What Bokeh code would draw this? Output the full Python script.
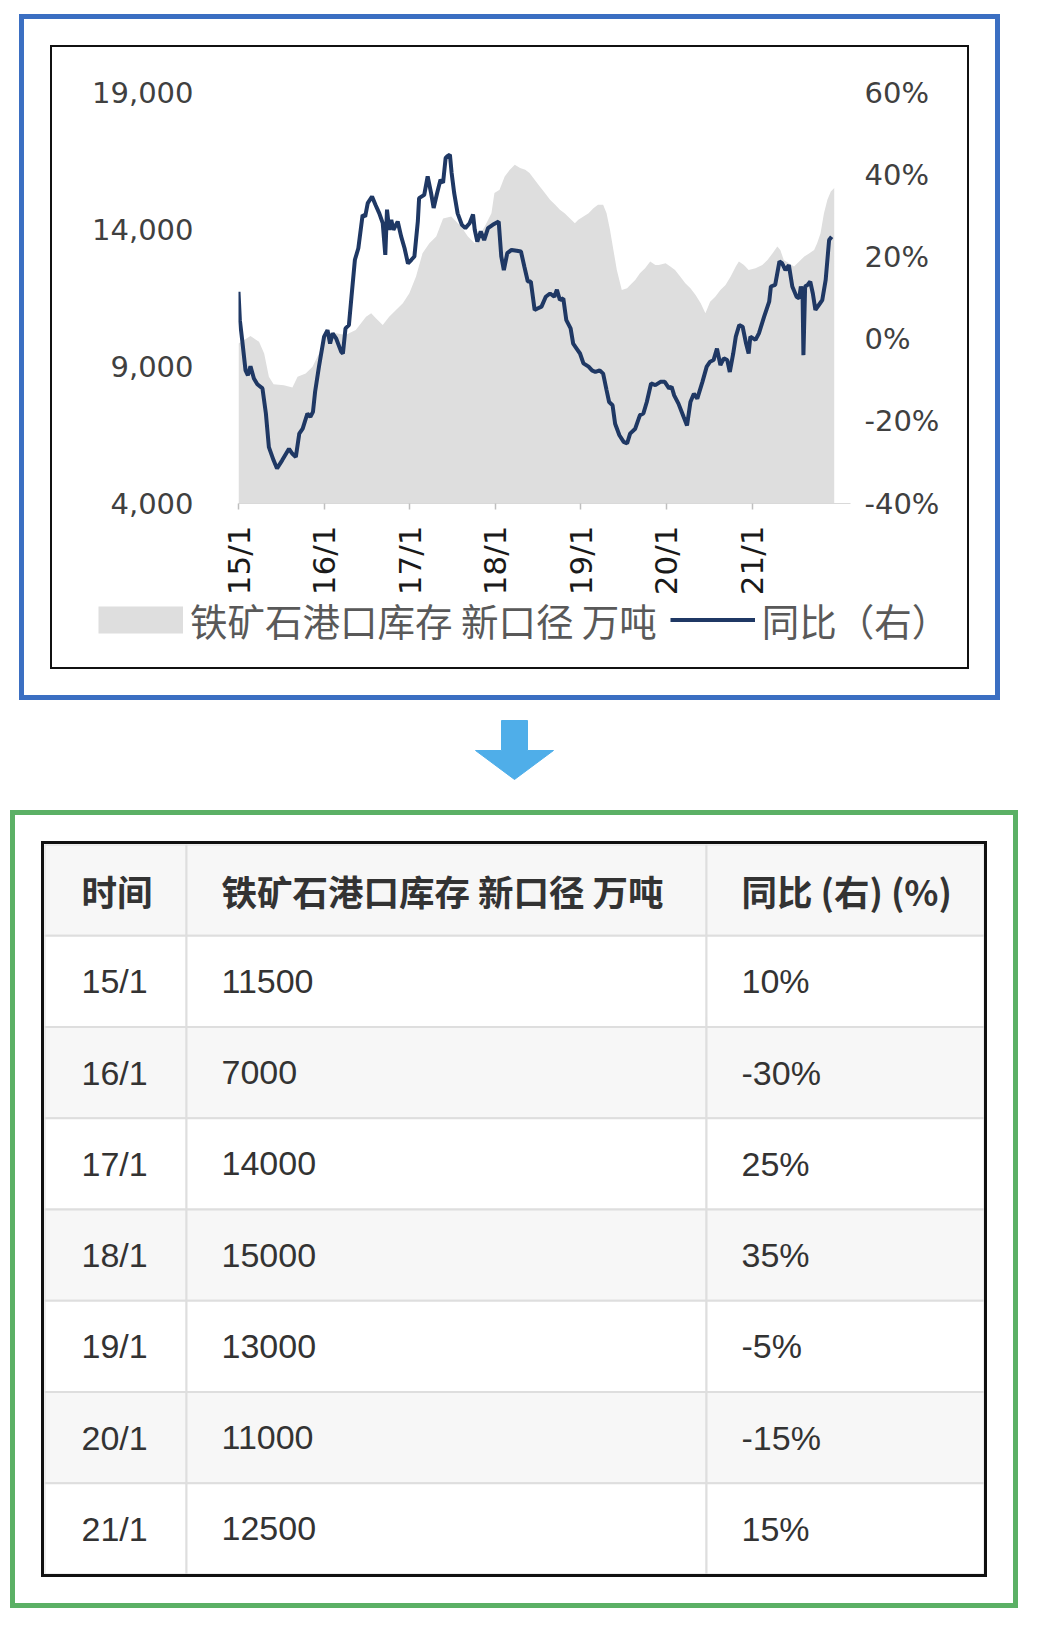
import math
from bokeh.plotting import figure
from bokeh.models import (Range1d, LinearAxis, FixedTicker, Legend, LegendItem,
                          FactorRange, ColumnDataSource)
from bokeh.layouts import column
from bokeh.embed import file_html
from bokeh.resources import INLINE
from bokeh.core.properties import value

# ---------------- data ----------------
x_tick_years = [2015, 2016, 2017, 2018, 2019, 2020, 2021]
x_tick_labels = ["15/1", "16/1", "17/1", "18/1", "19/1", "20/1", "21/1"]
left_ticks = [4000, 9000, 14000, 19000]
left_tick_labels = ["4,000", "9,000", "14,000", "19,000"]
right_ticks = [-40, -20, 0, 20, 40, 60]
right_tick_labels = ["-40%", "-20%", "0%", "20%", "40%", "60%"]
series_names = ["铁矿石港口库存 新口径 万吨", "同比（右）"]

# 铁矿石港口库存 (万吨), x in decimal years
stock_x = [2015.000, 2015.140, 2015.240, 2015.300, 2015.355, 2015.410, 2015.530, 2015.630,
           2015.690, 2015.785, 2015.865, 2015.940, 2016.020, 2016.140, 2016.250, 2016.370,
           2016.490, 2016.550, 2016.605, 2016.685, 2016.760, 2016.840, 2016.920, 2016.996,
           2017.074, 2017.150, 2017.230, 2017.310, 2017.390, 2017.486, 2017.600, 2017.680,
           2017.760, 2017.877, 2017.955, 2017.990, 2018.050, 2018.110, 2018.170, 2018.228,
           2018.290, 2018.350, 2018.400, 2018.460, 2018.520, 2018.580, 2018.640, 2018.700,
           2018.755, 2018.810, 2018.870, 2018.930, 2018.970, 2019.030, 2019.090, 2019.146,
           2019.200, 2019.260, 2019.300, 2019.340, 2019.380, 2019.420, 2019.478, 2019.540,
           2019.576, 2019.635, 2019.690, 2019.750, 2019.810, 2019.870, 2019.910, 2019.990,
           2020.045, 2020.100, 2020.160, 2020.220, 2020.280, 2020.340, 2020.400, 2020.455,
           2020.510, 2020.570, 2020.630, 2020.690, 2020.750, 2020.810, 2020.846, 2020.905,
           2020.960, 2021.040, 2021.120, 2021.180, 2021.240, 2021.295, 2021.330, 2021.370,
           2021.430, 2021.490, 2021.550, 2021.610, 2021.670, 2021.725, 2021.760, 2021.800,
           2021.840, 2021.880, 2021.920, 2021.960]
stock_val = [9843, 10111, 9904, 9477, 8624, 8356, 8319, 8234,
             8624, 8746, 8990, 9477, 10087, 10209, 10148, 10331,
             10818, 10940, 10757, 10513, 10818, 11062, 11306, 11671,
             12281, 13134, 13500, 13744, 14400, 14475, 14109, 13744,
             13500, 14109, 14597, 15328, 15450, 15938, 16182, 16364,
             16243, 16182, 16060, 15816, 15572, 15328, 15085, 14902,
             14719, 14597, 14414, 14231, 14353, 14475, 14597, 14780,
             14902, 14902, 14597, 13988, 13256, 12525, 11793, 11854,
             11976, 12159, 12403, 12586, 12830, 12700, 12708, 12768,
             12647, 12525, 12281, 12037, 11854, 11610, 11306, 10940,
             11367, 11550, 11793, 11976, 12281, 12647, 12830, 12708,
             12525, 12586, 12708, 12890, 13134, 13378, 13256, 12890,
             12768, 12647, 12830, 13012, 13134, 13256, 13500, 13866,
             14597, 15085, 15389, 15511]

# 同比 (%), x in decimal years
yoy_x = [2015.000, 2015.016, 2015.043, 2015.082, 2015.110, 2015.140, 2015.180, 2015.220, 2015.280, 2015.320,
         2015.355, 2015.410, 2015.450, 2015.510, 2015.590, 2015.630, 2015.670, 2015.710, 2015.750, 2015.805,
         2015.840, 2015.870, 2015.895, 2015.940, 2016.000, 2016.040, 2016.070, 2016.100, 2016.140, 2016.200,
         2016.220, 2016.250, 2016.290, 2016.320, 2016.360, 2016.400, 2016.450, 2016.480, 2016.510, 2016.560,
         2016.600, 2016.645, 2016.685, 2016.715, 2016.735, 2016.760, 2016.785, 2016.810, 2016.860, 2016.900,
         2016.940, 2016.980, 2017.020, 2017.055, 2017.095, 2017.110, 2017.170, 2017.210, 2017.250, 2017.280,
         2017.320, 2017.360, 2017.390, 2017.420, 2017.440, 2017.470, 2017.490, 2017.520, 2017.560, 2017.610,
         2017.650, 2017.700, 2017.740, 2017.760, 2017.790, 2017.830, 2017.870, 2017.915, 2017.970, 2018.040,
         2018.070, 2018.100, 2018.140, 2018.190, 2018.250, 2018.300, 2018.340, 2018.380, 2018.415, 2018.460,
         2018.500, 2018.540, 2018.590, 2018.640, 2018.690, 2018.720, 2018.755, 2018.795, 2018.830, 2018.880,
         2018.910, 2018.950, 2018.990, 2019.030, 2019.090, 2019.130, 2019.170, 2019.220, 2019.260, 2019.300,
         2019.330, 2019.370, 2019.400, 2019.450, 2019.500, 2019.540, 2019.575, 2019.635, 2019.690, 2019.730,
         2019.770, 2019.820, 2019.870, 2019.930, 2019.980, 2020.030, 2020.060, 2020.090, 2020.140, 2020.200,
         2020.240, 2020.280, 2020.320, 2020.360, 2020.420, 2020.470, 2020.510, 2020.550, 2020.590, 2020.630,
         2020.670, 2020.710, 2020.740, 2020.780, 2020.810, 2020.850, 2020.890, 2020.930, 2020.960, 2020.980,
         2021.040, 2021.080, 2021.140, 2021.200, 2021.220, 2021.270, 2021.320, 2021.350, 2021.390, 2021.430,
         2021.470, 2021.520, 2021.550, 2021.570, 2021.590, 2021.600, 2021.620, 2021.650, 2021.680, 2021.710,
         2021.740, 2021.780, 2021.820, 2021.860, 2021.900, 2021.930]
yoy_pct = [11.5, 4.6, -0.2, -7.6, -8.8, -6.6, -9.6, -11.0, -12.0, -18.1,
           -26.3, -29.5, -31.5, -29.5, -26.7, -27.9, -28.7, -23.0, -21.8, -18.1,
           -18.9, -17.7, -12.8, -6.7, 0.6, 2.2, -1.1, 1.4, 0.2, -3.1,
           -3.5, 2.6, 3.4, 10.3, 19.3, 22.1, 30.2, 29.8, 33.1, 34.7,
           32.7, 30.6, 28.2, 20.5, 31.5, 26.6, 29.0, 26.6, 28.6, 25.0,
           22.1, 18.4, 19.3, 20.1, 28.6, 34.3, 35.1, 39.6, 35.5, 31.9,
           35.5, 38.8, 38.0, 44.1, 44.5, 44.9, 40.4, 35.5, 30.6, 27.8,
           27.0, 28.2, 30.3, 26.6, 23.7, 26.2, 24.1, 27.0, 27.8, 28.6,
           20.1, 16.8, 20.9, 21.7, 21.5, 21.3, 17.6, 14.0, 14.0, 7.1,
           7.5, 7.9, 10.3, 11.1, 10.3, 12.0, 9.5, 9.9, 4.6, 2.6,
           -1.1, -2.3, -3.5, -5.9, -6.7, -7.6, -8.0, -7.6, -8.4, -12.4,
           -15.3, -16.1, -20.6, -23.4, -25.0, -25.4, -23.0, -21.8, -18.5, -18.1,
           -15.3, -10.8, -11.2, -10.4, -10.4, -12.0, -11.6, -13.7, -15.7, -18.9,
           -21.0, -15.3, -13.3, -14.5, -10.4, -6.7, -5.5, -5.1, -2.3, -6.3,
           -4.7, -5.1, -8.0, -3.5, 0.6, 3.4, 3.0, -1.1, -3.5, 0.6,
           -0.2, 1.4, 5.4, 9.1, 12.8, 13.2, 18.9, 18.5, 16.8, 18.0,
           12.8, 10.3, 9.9, 12.8, 11.1, -3.9, 12.8, 13.2, 14.0, 11.1,
           7.1, 8.3, 9.5, 14.4, 24.1, 24.9]

# table
table_header = ["时间", "铁矿石港口库存 新口径 万吨", "同比 (右) (%)"]
table_dates = ["15/1", "16/1", "17/1", "18/1", "19/1", "20/1", "21/1"]
table_stock = [11500, 7000, 14000, 15000, 13000, 11000, 12500]
table_yoy = ["10%", "-30%", "25%", "35%", "-5%", "-15%", "15%"]

AREA_COLOR = "#dedede"
LINE_COLOR = "#1f3864"

# ---------------- chart ----------------
p = figure(frame_width=612, frame_height=411, output_backend="svg", toolbar_location=None,
           x_range=Range1d(2015.0, 2022.15), y_range=Range1d(left_ticks[0], left_ticks[-1]),
           min_border_left=186, min_border_right=117, min_border_top=45, min_border_bottom=95,
           background_fill_color="white", border_fill_color="white", outline_line_color=None,
           frame_align=False)
p.grid.visible = False
p.extra_y_ranges = {"pct": Range1d(right_ticks[0], right_ticks[-1])}

p.varea(x=stock_x, y1=left_ticks[0], y2=stock_val, fill_color=AREA_COLOR)
p.line(x=yoy_x, y=yoy_pct, y_range_name="pct", line_color=LINE_COLOR, line_width=4)

xa = p.xaxis[0]
xa.ticker = FixedTicker(ticks=x_tick_years)
xa.major_label_overrides = dict(zip(x_tick_years, x_tick_labels))
xa.major_label_orientation = math.pi / 2
xa.major_tick_out = 6
xa.major_tick_in = 0
xa.minor_tick_out = 0
xa.minor_tick_in = 0
xa.axis_line_color = "#d9d9d9"
xa.major_tick_line_color = "#bfbfbf"
xa.major_tick_line_width = 1.5
xa.major_label_standoff = 16
xa.major_label_text_font = "DejaVu Sans"
xa.major_label_text_font_size = "31px"
xa.major_label_text_color = "#1a1a1a"

ya = p.yaxis[0]
ya.ticker = FixedTicker(ticks=left_ticks)
ya.major_label_overrides = dict(zip(left_ticks, left_tick_labels))
ya.axis_line_color = None
ya.major_tick_line_color = None
ya.minor_tick_line_color = None
ya.major_tick_out = 0
ya.major_tick_in = 0
ya.major_label_standoff = 45
ya.major_label_text_font = "DejaVu Sans"
ya.major_label_text_font_size = "29px"
ya.major_label_text_color = "#404040"

ra = LinearAxis(y_range_name="pct", ticker=FixedTicker(ticks=right_ticks),
                major_label_overrides=dict(zip(right_ticks, right_tick_labels)),
                axis_line_color=None, major_tick_line_color=None, minor_tick_line_color=None,
                major_tick_out=0, major_tick_in=0, major_label_standoff=14,
                major_label_text_font="DejaVu Sans", major_label_text_font_size="29px",
                major_label_text_color="#404040")
p.add_layout(ra, "right")

# ---------------- legend strip (inside the same framed box) ----------------
lf = figure(width=869, height=75, output_backend="svg", toolbar_location=None,
            x_range=Range1d(0, 1), y_range=Range1d(0, 1),
            min_border=0, outline_line_color=None, background_fill_alpha=0,
            border_fill_alpha=0, frame_align=False)
lf.axis.visible = False
lf.grid.visible = False
# legend swatch carriers, placed outside the visible range of this strip
proxy_area = lf.line(x=[-3, -2], y=[-3, -2], line_color=AREA_COLOR, line_width=27,
                     line_cap="butt")
proxy_line = lf.line(x=[-3, -2], y=[-3, -2], line_color=LINE_COLOR, line_width=4)
legend = Legend(items=[LegendItem(label=series_names[0], renderers=[proxy_area]),
                       LegendItem(label=series_names[1], renderers=[proxy_line])],
                orientation="horizontal", location="top_left",
                glyph_width=85, glyph_height=29, label_standoff=7, spacing=13,
                label_text_font="Noto Sans CJK SC", label_text_font_size="37.5px",
                label_text_color="#595959", border_line_color=None,
                background_fill_alpha=0, padding=0, margin=0)
lf.add_layout(legend)
lf.margin = (-6, 0, 0, 46)

chart_box = column(p, lf)
chart_box.margin = (47, 0, 0, 52)
chart_box.styles = {"box-shadow": "0 0 0 2px #111111, 0 0 0 28px #ffffff, 0 0 0 33px #3b6fc2"}

# ---------------- arrow ----------------
a = figure(width=90, height=70, output_backend="svg", toolbar_location=None,
           x_range=Range1d(0, 90), y_range=Range1d(70, 0),
           min_border=0, outline_line_color=None, background_fill_color="white",
           border_fill_color="white", frame_align=False)
a.axis.visible = False
a.grid.visible = False
a.patch(x=[31, 57, 57, 83, 44, 5, 31], y=[5, 5, 35, 35, 64, 35, 35],
        fill_color="#4faee9", line_color="#4faee9")
a.margin = (48, 0, 0, 470)

# ---------------- table ----------------
TW, TH = 940, 730
col_edges = [0, 142, 662, 940]
col_text_x = [37, 177, 697]
row_factors = [table_header[0]] + table_dates

t = figure(width=TW, height=TH, output_backend="svg", toolbar_location=None,
           x_range=Range1d(0, TW), y_range=FactorRange(factors=list(reversed(row_factors))),
           min_border=0, outline_line_color=None, background_fill_color="white",
           border_fill_color="white", frame_align=False)
t.axis.visible = False
t.grid.visible = False

cx, cy, cw, cf = [], [], [], []
for i, r in enumerate(row_factors):
    for c in range(3):
        cx.append((col_edges[c] + col_edges[c + 1]) / 2)
        cw.append(col_edges[c + 1] - col_edges[c])
        cy.append(r)
        cf.append("#f7f7f7" if i % 2 == 0 else "#ffffff")
t.rect(x="x", y="y", width="w", height=1, fill_color="f", line_color="#dedede", line_width=2,
       source=ColumnDataSource(dict(x=cx, y=cy, w=cw, f=cf)))

t.text(x=col_text_x, y=[table_header[0]] * 3, text=table_header,
       text_font=value("Noto Sans CJK SC"), text_font_style="bold", text_font_size="35.5px",
       text_color="#333333", text_baseline="middle", text_align="left")

bx, by, bt = [], [], []
for d, s, yv in zip(table_dates, table_stock, table_yoy):
    for c, txt in enumerate([d, str(s), yv]):
        bx.append(col_text_x[c])
        by.append(d)
        bt.append(txt)
t.text(x=bx, y=by, text=bt, text_font=value("Liberation Sans"), text_font_size="34px",
       text_color="#333333", text_baseline="middle", text_align="left")

t.margin = (59, 0, 0, 44)
t.styles = {"box-shadow": "0 0 0 3px #111111, 0 0 0 29px #ffffff, 0 0 0 34px #5bb065"}

layout = column(chart_box, a, t)
open("out.html", "w").write(file_html(layout, INLINE))
